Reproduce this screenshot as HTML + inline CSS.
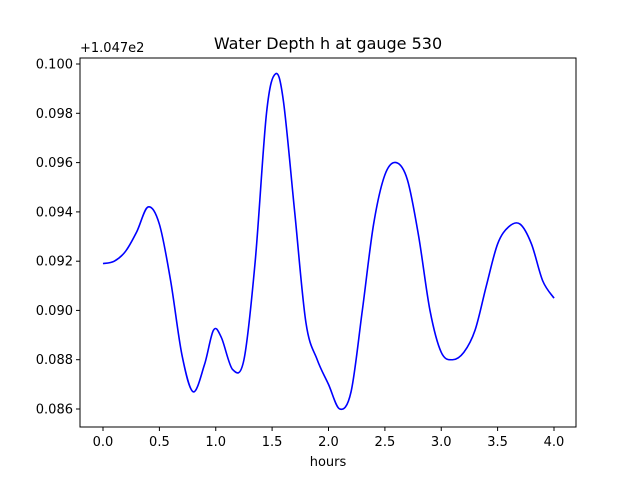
<!DOCTYPE html>
<html><head><style>body{margin:0;background:#fff}svg{display:block}text{font-family:"DejaVu Sans","Liberation Sans",sans-serif;fill:#000}</style></head>
<body>
<svg id="s" width="640" height="480" xmlns="http://www.w3.org/2000/svg">
<rect width="640" height="480" fill="#fff"/>
<text x="328" y="49" font-size="16" text-anchor="middle">Water Depth h at gauge 530</text>
<text x="80" y="52" font-size="13">+1.047e2</text>
<g stroke="#000" stroke-width="1">
<line x1="103" y1="427" x2="103" y2="431"/><line x1="159.4" y1="427" x2="159.4" y2="431"/><line x1="215.75" y1="427" x2="215.75" y2="431"/><line x1="272.1" y1="427" x2="272.1" y2="431"/><line x1="328.5" y1="427" x2="328.5" y2="431"/><line x1="384.9" y1="427" x2="384.9" y2="431"/><line x1="441.25" y1="427" x2="441.25" y2="431"/><line x1="497.6" y1="427" x2="497.6" y2="431"/><line x1="554" y1="427" x2="554" y2="431"/>
<line x1="76" y1="64" x2="80" y2="64"/><line x1="76" y1="113.3" x2="80" y2="113.3"/><line x1="76" y1="162.6" x2="80" y2="162.6"/><line x1="76" y1="211.9" x2="80" y2="211.9"/><line x1="76" y1="261.2" x2="80" y2="261.2"/><line x1="76" y1="310.4" x2="80" y2="310.4"/><line x1="76" y1="359.7" x2="80" y2="359.7"/><line x1="76" y1="409" x2="80" y2="409"/>
</g>
<g font-size="13" text-anchor="middle">
<text x="103" y="446">0.0</text><text x="159.4" y="446">0.5</text><text x="215.75" y="446">1.0</text><text x="272.1" y="446">1.5</text><text x="328.5" y="446">2.0</text><text x="384.9" y="446">2.5</text><text x="441.25" y="446">3.0</text><text x="497.6" y="446">3.5</text><text x="554" y="446">4.0</text>
<text x="328" y="466">hours</text>
</g>
<g font-size="13" text-anchor="end">
<text x="73" y="68.5">0.100</text><text x="73" y="117.8">0.098</text><text x="73" y="167.1">0.096</text><text x="73" y="216.4">0.094</text><text x="73" y="265.7">0.092</text><text x="73" y="314.9">0.090</text><text x="73" y="364.2">0.088</text><text x="73" y="413.5">0.086</text>
</g>
<path id="c" fill="none" stroke="#0000ff" stroke-width="1.6"/>
<rect x="80" y="58" width="496" height="369" fill="none" stroke="#000" stroke-width="1"/>
</svg>
<script>
var d=[[0,0.0919],[0.1,0.0920],[0.2,0.0924],[0.3,0.0932],[0.4,0.0942],[0.5,0.0935],[0.6,0.0912],[0.7,0.0882],[0.8,0.0867],[0.9,0.0878],[0.98,0.0892],[1.05,0.0889],[1.15,0.0876],[1.25,0.0880],[1.35,0.0920],[1.45,0.0980],[1.53,0.0996],[1.6,0.0985],[1.7,0.0940],[1.8,0.0895],[1.9,0.0880],[2.0,0.0870],[2.1,0.0860],[2.2,0.0867],[2.3,0.0900],[2.4,0.0935],[2.5,0.0955],[2.6,0.0960],[2.7,0.0953],[2.8,0.0930],[2.9,0.0900],[3.0,0.0883],[3.1,0.0880],[3.2,0.0883],[3.3,0.0892],[3.4,0.0910],[3.5,0.0927],[3.6,0.0934],[3.7,0.0935],[3.8,0.0927],[3.9,0.0912],[4.0,0.0905]];
var p=d.map(function(a){return [103+112.75*a[0],64+(0.1-a[1])/0.002*49.29]});
var s="M"+p[0][0]+","+p[0][1];
for(var i=0;i<p.length-1;i++){var a=p[Math.max(i-1,0)],b=p[i],c=p[i+1],e=p[Math.min(i+2,p.length-1)];
s+=" C"+(b[0]+(c[0]-a[0])/6)+","+(b[1]+(c[1]-a[1])/6)+" "+(c[0]-(e[0]-b[0])/6)+","+(c[1]-(e[1]-b[1])/6)+" "+c[0]+","+c[1];}
document.getElementById("c").setAttribute("d",s);
</script>
</body></html>
